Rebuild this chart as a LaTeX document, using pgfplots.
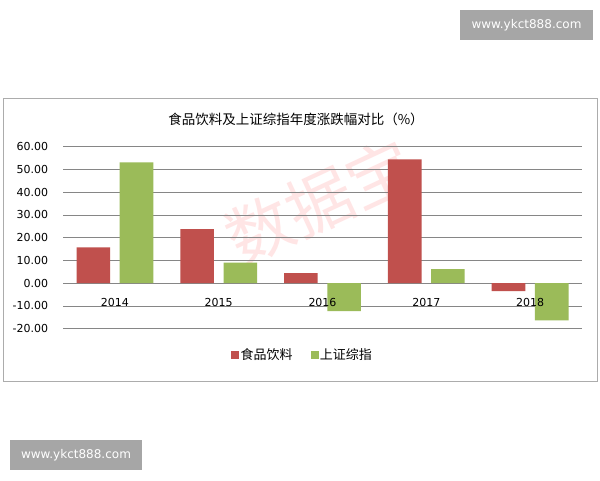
\documentclass[border=0pt]{standalone}
\usepackage{pgfplots}
\pgfplotsset{compat=1.18}
\usepackage{fontspec}
\setmainfont{DejaVu Sans}
\newfontfamily\cjk{Noto Sans CJK SC}
\definecolor{redbar}{HTML}{C0504D}
\definecolor{greenbar}{HTML}{9BBB59}
\definecolor{gridc}{HTML}{868686}
\definecolor{wmbox}{HTML}{A6A6A6}
\tikzset{xlab/.style={font=\fontsize{11}{13}\selectfont, yshift=-19pt}}
\begin{document}
\begin{tikzpicture}[x=1pt,y=1pt]
\path[use as bounding box, fill=white] (0,0) rectangle (600,480);
\fill[wmbox] (460,440) rectangle (593,470);
\node[text=white, font=\fontsize{12}{14}\selectfont] at (526.5,455) {www.ykct888.com};
\fill[wmbox] (10,10) rectangle (142,40);
\node[text=white, font=\fontsize{12}{14}\selectfont] at (76,25) {www.ykct888.com};
\draw[gray!65, line width=1pt] (3,99) rectangle (597,381);
\node[font=\cjk\fontsize{13.5}{15}\selectfont] at (296,361) {食品饮料及上证综指年度涨跌幅对比（\%）};
\node[rotate=25, text=red!60, opacity=0.17, font=\cjk\fontsize{66}{66}\selectfont] at (320,278) {数据宝};
\begin{axis}[
  at={(63pt,151.3pt)}, anchor=south west, scale only axis,
  width=519pt, height=182pt,
  ybar, bar width=33.6pt,
  xmin=-0.5, xmax=4.5, ymin=-20, ymax=60,
  ytick={-20,-10,...,60},
  xtick={0,1,2,3,4},
  xticklabels={},
  axis line style={draw=none},
  major tick length=0pt,
  ymajorgrids,
  grid style={gridc, line width=0.9pt},
  y tick label style={/pgf/number format/fixed, /pgf/number format/fixed zerofill,
    /pgf/number format/precision=2, /pgf/number format/assume math mode=true,
    anchor=east, inner sep=0pt, xshift=-14.7pt, font=\fontsize{11}{13}\selectfont},
  legend style={at={(0.4615,-0.1445)}, anchor=center, draw=none, fill=none,
    legend columns=2, font=\cjk\fontsize{13}{15}\selectfont,
    /tikz/every even column/.append style={column sep=16pt}},
]
\addplot[fill=redbar, draw=none, bar shift=-21.6pt, forget plot] coordinates {(0,15.7) (1,23.8) (2,4.4) (3,54.4) (4,-3.5)};
\addplot[fill=greenbar, draw=none, bar shift=21.6pt, forget plot] coordinates {(0,53.1) (1,9.0) (2,-12.3) (3,6.2) (4,-16.3)};
\addlegendimage{legend image code/.code={\fill[redbar] (0pt,-3pt) rectangle (7pt,4pt);}}
\addlegendentry{食品饮料}
\addlegendimage{legend image code/.code={\fill[greenbar] (0pt,-3pt) rectangle (7pt,4pt);}}
\addlegendentry{上证综指}
\node[xlab] at (axis cs:0,0) {2014};
\node[xlab] at (axis cs:1,0) {2015};
\node[xlab] at (axis cs:2,0) {2016};
\node[xlab] at (axis cs:3,0) {2017};
\node[xlab] at (axis cs:4,0) {2018};
\end{axis}
\end{tikzpicture}
\end{document}
